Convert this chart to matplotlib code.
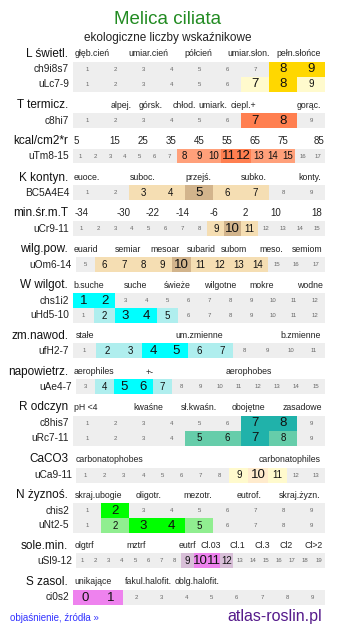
import matplotlib
matplotlib.use("Agg")
import matplotlib.pyplot as plt

W, H = 337, 634
plt.rcParams['font.family'] = ['Liberation Sans', 'DejaVu Sans']

title = "Melica ciliata"
subtitle = "ekologiczne liczby wskaźnikowe"

# colours
GREY = "#EEEEEE"
GOLD = "#FFD700"
LEMON = "#FFFACD"
CORAL = "#FF7F50"
SALMON = "#FFA07A"
WHEAT = "#F5DEB3"
TAN = "#D2B48C"
CYAN = "#00FFFF"
PALE = "#AFEEEE"
SEA = "#20B2AA"
AQUA = "#66CDAA"
ALMOND = "#FFEBCD"
LIME = "#00FF00"
LGREEN = "#90EE90"
THISTLE = "#D8BFD8"
VIOLET = "#EE82EE"

# section headers and their category labels
sec_titles = ["L świetl.", "T termicz.", "kcal/cm2*r", "K kontyn.", "min.śr.m.T",
              "wilg.pow.", "W wilgot.", "zm.nawod.", "napowietrz.", "R odczyn",
              "CaCO3", "N żyznoś.", "sole.min.", "S zasol."]
sec_labels = [
    ["głęb.cień", "umiar.cień", "półcień", "umiar.słon.", "pełn.słońce"],
    ["alpej.", "górsk.", "chłod.", "umiark.", "ciepl.+", "gorąc."],
    ["5", "15", "25", "35", "45", "55", "65", "75", "85"],
    ["euoce.", "suboc.", "przejś.", "subko.", "konty."],
    ["-34", "-30", "-22", "-14", "-6", "2", "10", "18"],
    ["euarid", "semiar", "mesoar", "subarid", "subom", "meso.", "semiom"],
    ["b.suche", "suche", "świeże", "wilgotne", "mokre", "wodne"],
    ["stałe", "um.zmienne", "b.zmienne"],
    ["aerophiles", "+-", "aerophobes"],
    ["pH <4", "kwaśne", "sł.kwaśn.", "obojętne", "zasadowe"],
    ["carbonatophobes", "carbonatophiles"],
    ["skraj.ubogie", "oligotr.", "mezotr.", "eutrof.", "skraj.żyzn."],
    ["olgtrf", "mztrf", "eutrf", "Cl.03", "Cl.1", "Cl.3", "Cl2", "Cl>2"],
    ["unikające", "fakul.halofit.", "oblg.halofit."],
]

# rows: code, first value, last value, highlighted values {value: (colour, size)}
row_codes = ["ch9i8s7", "uLc7-9", "c8hi7", "uTm8-15", "BC5A4E4", "uCr9-11", "uOm6-14",
             "chs1i2", "uHd5-10", "ufH2-7", "uAe4-7", "c8his7", "uRc7-11", "uCa9-11",
             "chis2", "uNt2-5", "uSl9-12", "ci0s2"]
row_first = [1, 1, 1, 1, 1, 1, 5, 1, 1, 1, 3, 1, 1, 1, 1, 1, 1, 0]
row_last = [9, 9, 9, 17, 9, 15, 17, 12, 12, 11, 15, 9, 9, 13, 9, 9, 19, 9]
row_marks = [
    {8: (GOLD, "L"), 9: (GOLD, "L")},
    {7: (LEMON, "L"), 8: (GOLD, "L"), 9: (LEMON, "M")},
    {7: (CORAL, "L"), 8: (CORAL, "L")},
    {8: (SALMON, "M"), 9: (SALMON, "M"), 10: (SALMON, "M"), 11: (CORAL, "L"),
     12: (CORAL, "L"), 13: (SALMON, "M"), 14: (SALMON, "M"), 15: (SALMON, "M")},
    {3: (WHEAT, "M"), 4: (WHEAT, "M"), 5: (TAN, "L"), 6: (WHEAT, "M"), 7: (WHEAT, "M")},
    {9: (WHEAT, "M"), 10: (TAN, "L"), 11: (WHEAT, "M")},
    {6: (WHEAT, "M"), 7: (WHEAT, "M"), 8: (WHEAT, "M"), 9: (WHEAT, "M"), 10: (TAN, "L"),
     11: (WHEAT, "M"), 12: (WHEAT, "M"), 13: (WHEAT, "M"), 14: (WHEAT, "M")},
    {1: (CYAN, "L"), 2: (CYAN, "L")},
    {2: (PALE, "M"), 3: (CYAN, "L"), 4: (CYAN, "L"), 5: (PALE, "M")},
    {2: (PALE, "M"), 3: (PALE, "M"), 4: (CYAN, "L"), 5: (CYAN, "L"), 6: (PALE, "M"),
     7: (PALE, "M")},
    {4: (PALE, "M"), 5: (CYAN, "L"), 6: (CYAN, "L"), 7: (PALE, "M")},
    {7: (SEA, "L"), 8: (SEA, "L")},
    {5: (AQUA, "M"), 6: (AQUA, "M"), 7: (SEA, "L"), 8: (AQUA, "M")},
    {9: (LEMON, "M"), 10: (ALMOND, "L"), 11: (LEMON, "M")},
    {2: (LIME, "L")},
    {2: (LGREEN, "M"), 3: (LIME, "L"), 4: (LIME, "L"), 5: (LGREEN, "M")},
    {9: (THISTLE, "M"), 10: (VIOLET, "L"), 11: (VIOLET, "L"), 12: (THISTLE, "M")},
    {0: (VIOLET, "L"), 1: (VIOLET, "L")},
]
row_section = [0, 0, 1, 2, 3, 4, 5, 6, 6, 7, 8, 9, 9, 10, 11, 11, 12, 13]

# layout (pixels)
sec_y = [54, 105, 141, 178, 213, 249, 285, 336, 372, 407, 459, 495, 546, 582]
sec_label_x = [
    [92, 148, 198, 249, 299],
    [121, 151, 184, 213, 243, 309],
    [76, 115, 143, 171, 199, 227, 255, 283, 319],
    [87, 143, 198, 254, 310],
    [82, 124, 153, 183, 214, 245, 276, 317],
    [86, 128, 165, 201, 234, 271, 307],
    [89, 136, 177, 220, 262, 310],
    [85, 199, 301],
    [94, 150, 249],
    [86, 148, 199, 248, 302],
    [110, 290],
    [99, 149, 198, 249, 300],
    [84, 136, 187, 211, 237, 262, 286, 314],
    [93, 148, 197],
]
row_y = [61.5, 76.5, 113, 148.5, 185, 221, 257, 293, 308, 343, 379, 415.5, 430.5,
         467.5, 503, 518, 553, 590]
row_x0 = [73, 73, 73, 73, 73, 73, 76, 73, 73, 73, 76, 73, 73, 76, 73, 73, 76, 73]
X1 = 325
RH = 15
SIZES = {"S": 4.3, "M": 7, "L": 9.5}

fig = plt.figure(figsize=(W / 100, H / 100), dpi=100)
bg = fig.add_axes([0, 0, 1, 1])
bg.set_xlim(0, W)
bg.set_ylim(H, 0)
bg.axis("off")

bg.text(168, 20, title, color="#228B22", fontsize=13.5, ha="center", va="center")
bg.text(168, 38, subtitle, color="#222222", fontsize=8.5, ha="center", va="center")

for i, (name, labels) in enumerate(zip(sec_titles, sec_labels)):
    bg.text(68, sec_y[i], name, fontsize=8.5, ha="right", va="center", color="#111111")
    for lab, x in zip(labels, sec_label_x[i]):
        bg.text(x, sec_y[i], lab, fontsize=6.3 if i != 2 and i != 4 else 7,
                ha="center", va="center", color="#222222")

for r, code in enumerate(row_codes):
    x0, y = row_x0[r], row_y[r]
    bg.text(x0 - 4, y + RH / 2, code, fontsize=7.3, ha="right", va="center",
            color="#222222")
    ax = fig.add_axes([x0 / W, 1 - (y + RH) / H, (X1 - x0) / W, RH / H])
    vals = list(range(row_first[r], row_last[r] + 1))
    cols = [row_marks[r].get(v, (GREY, "S"))[0] for v in vals]
    ax.bar(vals, 1, width=1.0, color=cols, align="center")
    ax.set_xlim(row_first[r] - 0.5, row_last[r] + 0.5)
    ax.set_ylim(0, 1)
    ax.axis("off")
    for v in vals:
        size = row_marks[r].get(v, (GREY, "S"))[1]
        ax.text(v, 0.47, str(v), fontsize=SIZES[size], ha="center", va="center",
                color="#666666" if size == "S" else "#111111")

bg.text(10, 618, "objaśnienie, źródła »", color="#3333FF", fontsize=7, ha="left",
        va="center")
bg.text(322, 616, "atlas-roslin.pl", color="#551A8B", fontsize=11.5, ha="right",
        va="center")

fig.savefig("out.png", dpi=100)
